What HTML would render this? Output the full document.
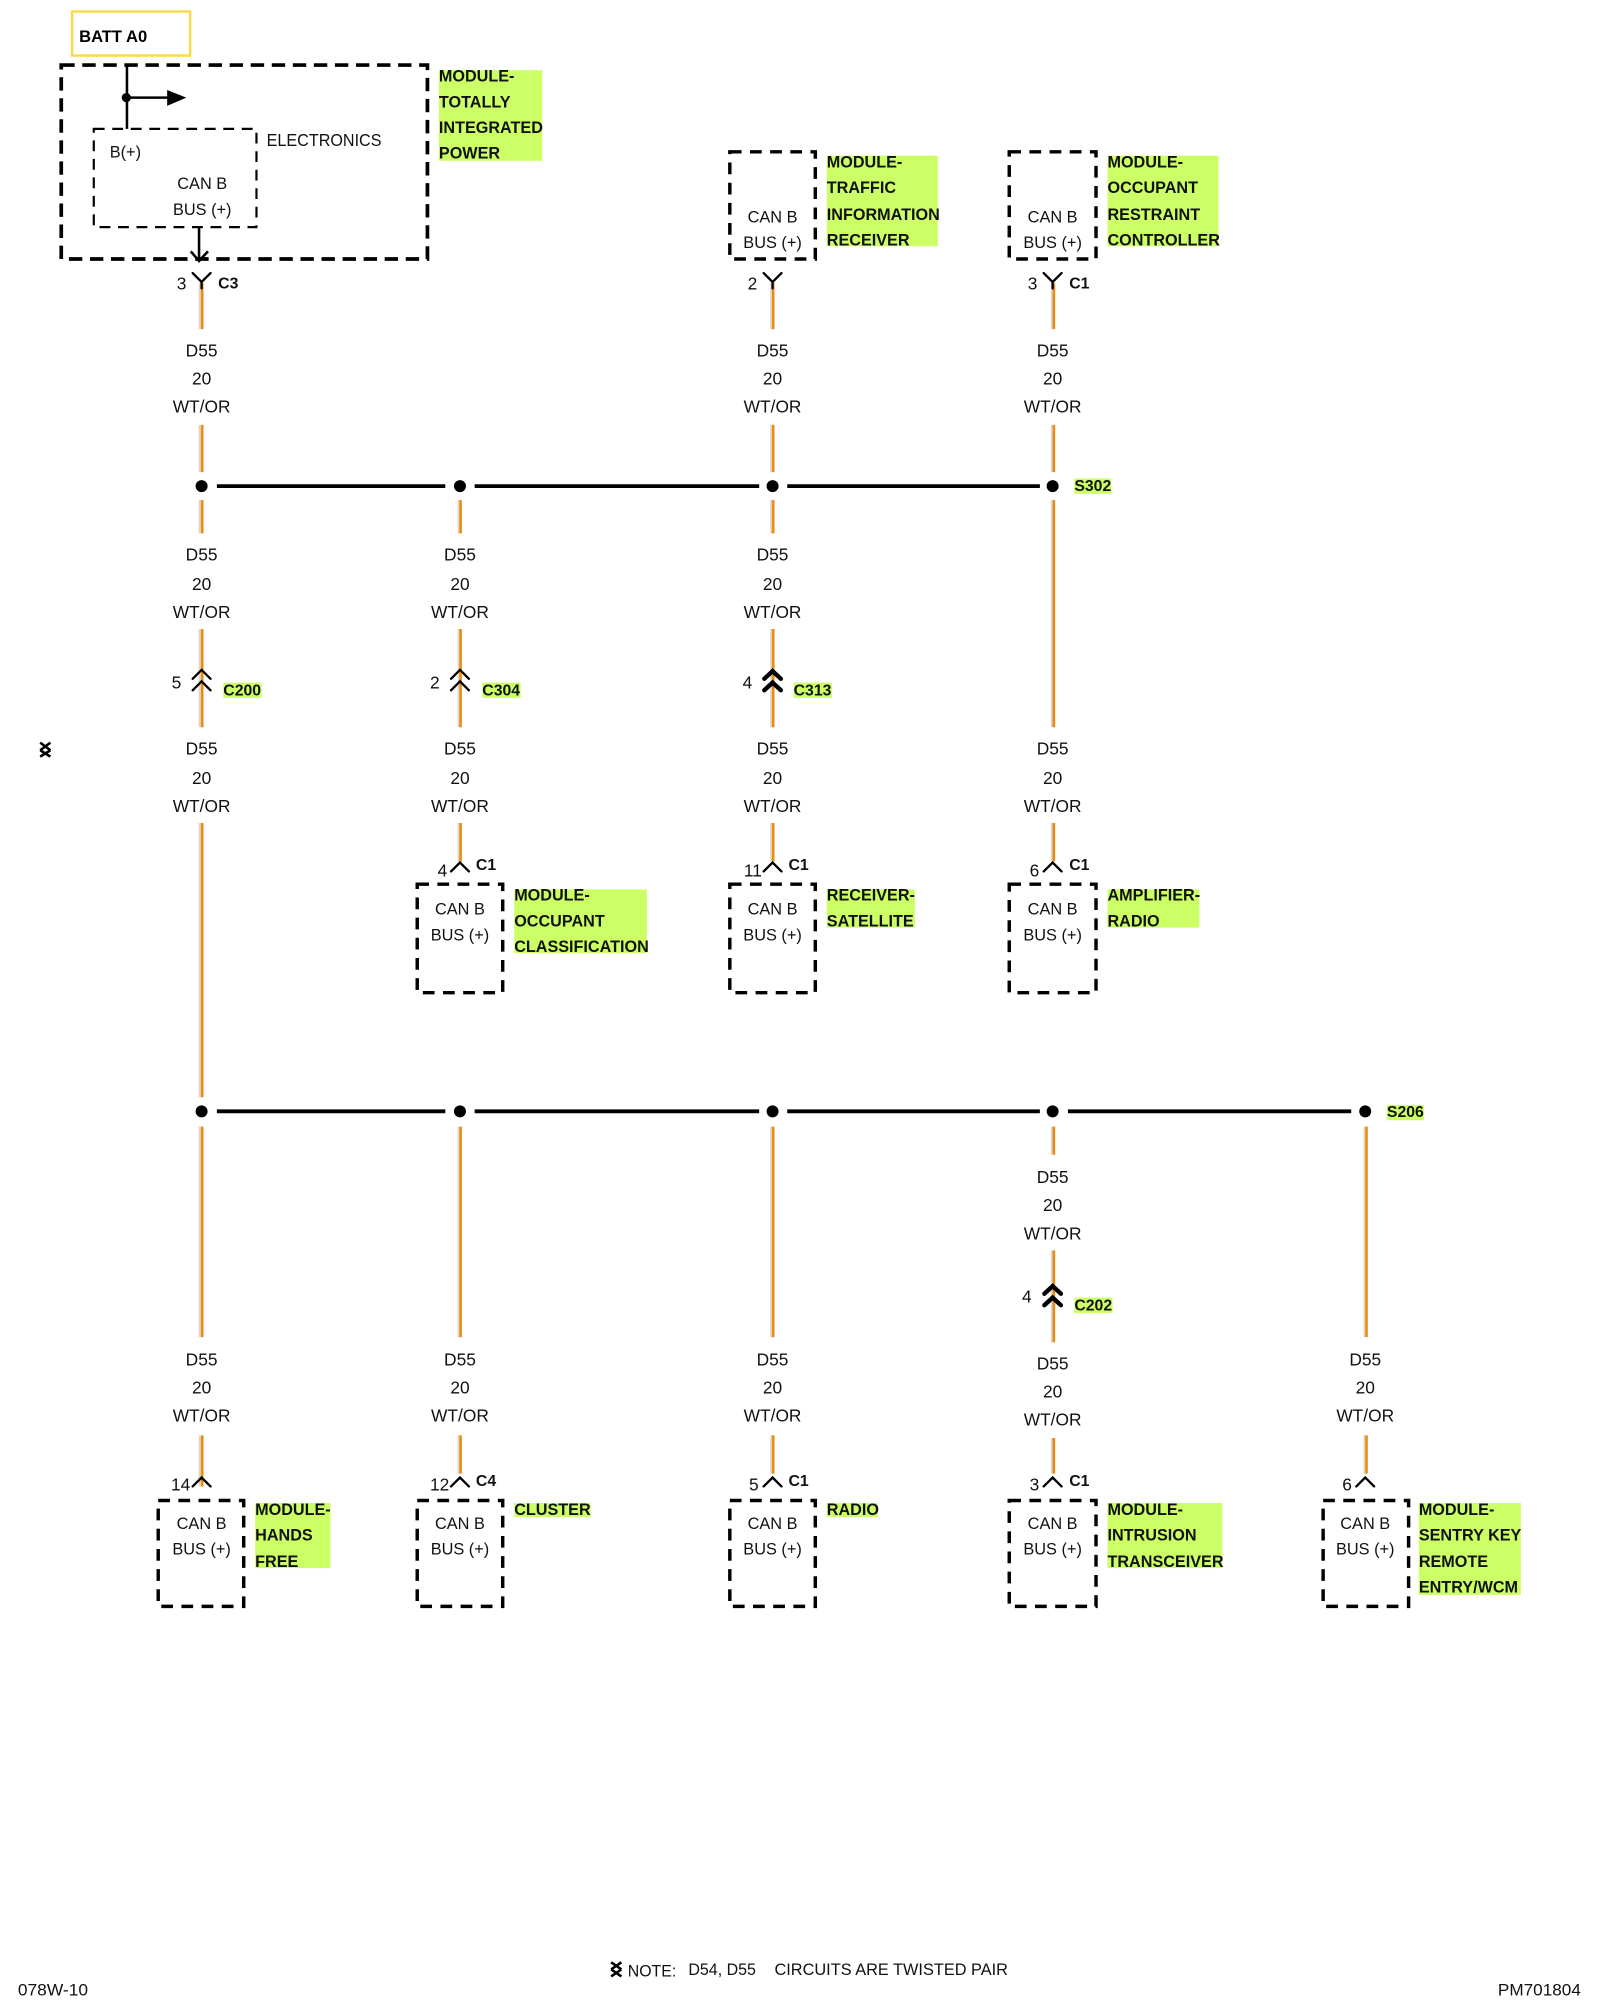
<!DOCTYPE html>
<html><head><meta charset="utf-8"><style>
html,body{margin:0;padding:0;background:#fff}
svg{display:block}
text{font-family:"Liberation Sans",sans-serif;fill:#111}
.c text,.c{text-anchor:middle}
.l{font-size:13.6px}
.n{font-size:12.8px}
.b{font-size:12.7px;font-weight:bold;fill:#051005}
.k{font-size:12.4px;font-weight:bold;fill:#000}
.g{fill:#ccff66}
.o{fill:none;stroke:#000;stroke-width:2.9;stroke-dasharray:10.500 6}
.m{fill:none;stroke:#000;stroke-width:2.7;stroke-dasharray:9.200 6.600}
.v{fill:none;stroke:#000;stroke-width:1.8;stroke-linecap:round}
.vb{fill:none;stroke:#000;stroke-width:3.4;stroke-linecap:round}
</style></head><body>
<svg xmlns="http://www.w3.org/2000/svg" width="1600" height="2000" viewBox="0 0 1254 1567.5">
<rect width="1254" height="1568" fill="#fff"/>

<!-- highlights -->
<rect class="g" x="344" y="55" width="81" height="71"/>
<rect class="g" x="648" y="122" width="87" height="71"/>
<rect class="g" x="868" y="122" width="87" height="71"/>
<rect class="g" x="403" y="697" width="104" height="50"/>
<rect class="g" x="648" y="697" width="69" height="30"/>
<rect class="g" x="868" y="697" width="72" height="30"/>
<rect class="g" x="200" y="1178" width="59" height="51"/>
<rect class="g" x="403" y="1178" width="60" height="11"/>
<rect class="g" x="648" y="1178" width="40" height="11"/>
<rect class="g" x="868" y="1178" width="90" height="51"/>
<rect class="g" x="1112" y="1178" width="80" height="72"/>
<rect class="g" x="842" y="375" width="29" height="12"/>
<rect class="g" x="1087" y="866" width="29" height="12"/>
<rect class="g" x="175" y="535" width="30" height="12"/>
<rect class="g" x="378" y="535" width="30" height="12"/>
<rect class="g" x="622" y="535" width="30" height="12"/>
<rect class="g" x="842" y="1017" width="30" height="12"/>

<!-- BATT -->
<rect x="56.500" y="9" width="92.500" height="34.500" fill="none" stroke="#f8dc50" stroke-width="2"/>
<text x="62" y="33" class="k" style="font-size:13px">BATT A0</text>

<!-- wires -->
<path fill="none" stroke="#e4d3c2" stroke-width="2.6" d="M157 222V258M157 333V370M157 392V418M157 493V570M157 645V860M157 883V1048M157 1125V1165M360 392V418M360 493V570M360 645V675M360 883V1048M360 1125V1155M605 222V258M605 333V370M605 392V418M605 493V570M605 645V675M605 883V1048M605 1125V1155M825 222V258M825 333V370M825 392V570M825 645V675M825 883V905M825 980V1052M825 1127V1155M1070 883V1048M1070 1125V1155"/>
<path fill="none" stroke="#e88c12" stroke-width="2" d="M158.500 222V258M158.500 333V370M158.500 392V418M158.500 493V570M158.500 645V860M158.500 883V1048M158.500 1125V1165M361 392V418M361 493V570M361 645V675M361 883V1048M361 1125V1155M606 222V258M606 333V370M606 392V418M606 493V570M606 645V675M606 883V1048M606 1125V1155M826 222V258M826 333V370M826 392V570M826 645V675M826 883V905M826 980V1052M826 1127V1155M1071 883V1048M1071 1125V1155"/>

<!-- buses -->
<path fill="none" stroke="#000" stroke-width="3" d="M170 381H349M372 381H595M617 381H815M170 871H349M372 871H595M617 871H815M837 871H1059"/>
<g fill="#000">
<circle cx="158" cy="381" r="4.700"/><circle cx="360.500" cy="381" r="4.700"/><circle cx="605.500" cy="381" r="4.700"/><circle cx="825" cy="381" r="4.700"/>
<circle cx="158" cy="871" r="4.700"/><circle cx="360.500" cy="871" r="4.700"/><circle cx="605.500" cy="871" r="4.700"/><circle cx="825" cy="871" r="4.700"/><circle cx="1070" cy="871" r="4.700"/>
</g>

<!-- outer module -->
<rect class="o" x="48" y="51" width="287" height="152"/>
<rect x="73.500" y="101" width="127.500" height="77" fill="none" stroke="#000" stroke-width="1.700" stroke-dasharray="8.500 6"/>
<path fill="none" stroke="#000" stroke-width="2" d="M99.500 52V101M99.500 76.500H133"/>
<circle cx="99" cy="76.500" r="3.600" fill="#000"/>
<path d="M131 70.500L146 76.500L131 83Z" fill="#000"/>
<path fill="none" stroke="#000" stroke-width="2" d="M156 178V205M149.500 197L156 204.500L163 197"/>
<text x="209" y="114.500" class="l" textLength="90" lengthAdjust="spacingAndGlyphs">ELECTRONICS</text>
<text x="86" y="123.500" class="n">B(+)</text>
<g class="c n" transform="translate(0,-0.800)"><text x="158.500" y="149">CAN B</text><text x="158.500" y="169.500">BUS (+)</text></g>

<!-- module boxes -->
<rect class="m" x="572" y="119" width="67" height="84"/>
<rect class="m" x="791" y="119" width="68" height="84"/>
<rect class="m" x="327" y="693" width="67" height="85"/>
<rect class="m" x="572" y="693" width="67" height="85"/>
<rect class="m" x="791" y="693" width="68" height="85"/>
<rect class="m" x="124" y="1176" width="67" height="83"/>
<rect class="m" x="327" y="1176" width="67" height="83"/>
<rect class="m" x="572" y="1176" width="67" height="83"/>
<rect class="m" x="791" y="1176" width="68" height="83"/>
<rect class="m" x="1037" y="1176" width="67" height="83"/>

<g class="c n" transform="translate(0,-0.800)">
<text x="605.500" y="175">CAN B</text><text x="605.500" y="195">BUS (+)</text>
<text x="825" y="175">CAN B</text><text x="825" y="195">BUS (+)</text>
<text x="360.500" y="717.500">CAN B</text><text x="360.500" y="738">BUS (+)</text>
<text x="605.500" y="717.500">CAN B</text><text x="605.500" y="738">BUS (+)</text>
<text x="825" y="717.500">CAN B</text><text x="825" y="738">BUS (+)</text>
<text x="158" y="1199">CAN B</text><text x="158" y="1219">BUS (+)</text>
<text x="360.500" y="1199">CAN B</text><text x="360.500" y="1219">BUS (+)</text>
<text x="605.500" y="1199">CAN B</text><text x="605.500" y="1219">BUS (+)</text>
<text x="825" y="1199">CAN B</text><text x="825" y="1219">BUS (+)</text>
<text x="1070" y="1199">CAN B</text><text x="1070" y="1219">BUS (+)</text>
</g>

<g class="c l" transform="translate(0,-0.700)">
<text x="158" y="280">D55</text><text x="158" y="302">20</text><text x="158" y="324">WT/OR</text>
<text x="605.500" y="280">D55</text><text x="605.500" y="302">20</text><text x="605.500" y="324">WT/OR</text>
<text x="825" y="280">D55</text><text x="825" y="302">20</text><text x="825" y="324">WT/OR</text>

<text x="158" y="440">D55</text><text x="158" y="463">20</text><text x="158" y="485">WT/OR</text>
<text x="360.500" y="440">D55</text><text x="360.500" y="463">20</text><text x="360.500" y="485">WT/OR</text>
<text x="605.500" y="440">D55</text><text x="605.500" y="463">20</text><text x="605.500" y="485">WT/OR</text>

<text x="158" y="592">D55</text><text x="158" y="615">20</text><text x="158" y="637">WT/OR</text>
<text x="360.500" y="592">D55</text><text x="360.500" y="615">20</text><text x="360.500" y="637">WT/OR</text>
<text x="605.500" y="592">D55</text><text x="605.500" y="615">20</text><text x="605.500" y="637">WT/OR</text>
<text x="825" y="592">D55</text><text x="825" y="615">20</text><text x="825" y="637">WT/OR</text>

<text x="825" y="928">D55</text><text x="825" y="950">20</text><text x="825" y="972">WT/OR</text>

<text x="158" y="1071">D55</text><text x="158" y="1093">20</text><text x="158" y="1115">WT/OR</text>
<text x="360.500" y="1071">D55</text><text x="360.500" y="1093">20</text><text x="360.500" y="1115">WT/OR</text>
<text x="605.500" y="1071">D55</text><text x="605.500" y="1093">20</text><text x="605.500" y="1115">WT/OR</text>
<text x="825" y="1074">D55</text><text x="825" y="1096">20</text><text x="825" y="1118">WT/OR</text>
<text x="1070" y="1071">D55</text><text x="1070" y="1093">20</text><text x="1070" y="1115">WT/OR</text>
</g>

<!-- connector glyphs -->
<path class="v" d="M151 214L158 221L165 214M158 221V226M598.500 214L605.500 221L612.500 214M605.500 221V226M818 214L825 221L832 214M825 221V226"/>
<path class="v" d="M151 532L158 525L165 532M151 541L158 534L165 541M353.500 532L360.500 525L367.500 532M353.500 541L360.500 534L367.500 541"/>
<path class="vb" d="M599 532L605.500 526L612 532M599 541L605.500 535L612 541M818.500 1014L825 1008L831.500 1014M818.500 1023L825 1017L831.500 1023"/>
<path class="v" d="M353.500 683L360.500 676L367.500 683M598.500 683L605.500 676L612.500 683M818 683L825 676L832 683"/>
<path class="v" d="M151 1165L158 1158L165 1165M353.500 1165L360.500 1158L367.500 1165M598.500 1165L605.500 1158L612.500 1165M818 1165L825 1158L832 1165M1063 1165L1070 1158L1077 1165"/>

<!-- pin numbers -->
<g class="l">
<text x="138.500" y="227">3</text><text x="586" y="227">2</text><text x="805.500" y="227">3</text>
<text x="134.500" y="539.500">5</text><text x="337" y="539.500">2</text><text x="582" y="539.500">4</text>
<text x="343" y="687">4</text><text x="583" y="687">11</text><text x="807" y="687">6</text>
<text x="801" y="1021">4</text>
<text x="134" y="1168">14</text><text x="337" y="1168">12</text><text x="587" y="1168">5</text><text x="807" y="1168">3</text><text x="1052" y="1168">6</text>
</g>

<!-- connector names -->
<g class="k">
<text x="171" y="226">C3</text><text x="838" y="226">C1</text>
<text x="842" y="385">S302</text><text x="1087" y="875.500">S206</text>
<text x="175" y="545">C200</text><text x="378" y="545">C304</text><text x="622" y="545">C313</text><text x="842" y="1027">C202</text>
<text x="373" y="682">C1</text><text x="618" y="682">C1</text><text x="838" y="682">C1</text>
<text x="373" y="1164.500">C4</text><text x="618" y="1164.500">C1</text><text x="838" y="1164.500">C1</text>
</g>

<!-- module names -->
<g class="b" transform="translate(0,-0.700)">
<text x="344" y="64.500">MODULE-</text><text x="344" y="85">TOTALLY</text><text x="344" y="105">INTEGRATED</text><text x="344" y="125">POWER</text>
<text x="648" y="132">MODULE-</text><text x="648" y="152">TRAFFIC</text><text x="648" y="173">INFORMATION</text><text x="648" y="193">RECEIVER</text>
<text x="868" y="132">MODULE-</text><text x="868" y="152">OCCUPANT</text><text x="868" y="173">RESTRAINT</text><text x="868" y="193">CONTROLLER</text>
<text x="403" y="706.500">MODULE-</text><text x="403" y="727">OCCUPANT</text><text x="403" y="747">CLASSIFICATION</text>
<text x="648" y="706.500">RECEIVER-</text><text x="648" y="727">SATELLITE</text>
<text x="868" y="706.500">AMPLIFIER-</text><text x="868" y="727">RADIO</text>
<text x="200" y="1188">MODULE-</text><text x="200" y="1208">HANDS</text><text x="200" y="1229">FREE</text>
<text x="403" y="1188">CLUSTER</text>
<text x="648" y="1188">RADIO</text>
<text x="868" y="1188">MODULE-</text><text x="868" y="1208">INTRUSION</text><text x="868" y="1229">TRANSCEIVER</text>
<text x="1112" y="1188">MODULE-</text><text x="1112" y="1208">SENTRY KEY</text><text x="1112" y="1229">REMOTE</text><text x="1112" y="1249">ENTRY/WCM</text>
</g>

<!-- twisted pair marks -->
<path fill="none" stroke="#000" stroke-width="2" d="M31.500 582L39.500 588M39.500 582L31.500 588M31.500 588L39.500 593M39.500 588L31.500 593"/>
<path fill="none" stroke="#000" stroke-width="2" d="M479 1538L487 1543.500M487 1538L479 1543.500M479 1543.500L487 1549M487 1543.500L479 1549"/>

<!-- footer -->
<text x="492" y="1549" class="l" style="font-size:13px" textLength="38" lengthAdjust="spacingAndGlyphs">NOTE:</text>
<text x="539.500" y="1548" class="l" style="font-size:13px" textLength="53" lengthAdjust="spacingAndGlyphs">D54, D55</text>
<text x="607" y="1548" class="l" style="font-size:13px" textLength="183" lengthAdjust="spacingAndGlyphs">CIRCUITS ARE TWISTED PAIR</text>
<text x="14" y="1564" class="l" style="font-size:13px" textLength="55" lengthAdjust="spacingAndGlyphs">078W-10</text>
<text x="1174" y="1564" class="l" style="font-size:13px" textLength="65" lengthAdjust="spacingAndGlyphs">PM701804</text>
</svg>
</body></html>
